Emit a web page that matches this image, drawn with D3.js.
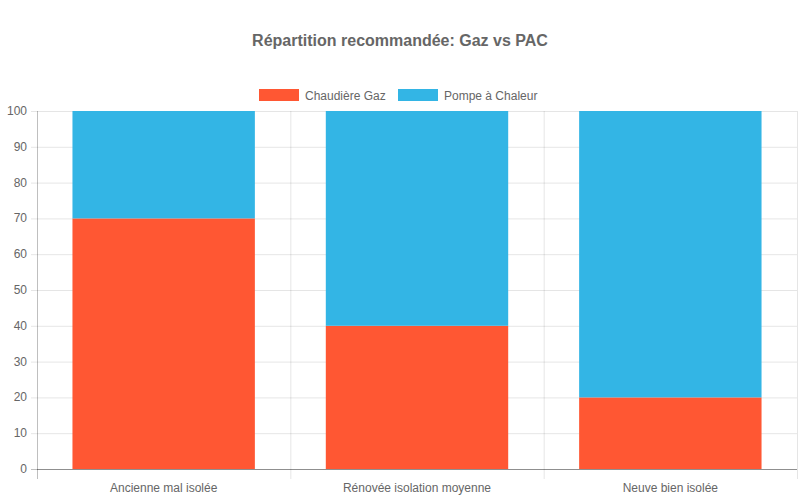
<!DOCTYPE html>
<html>
<head>
<meta charset="utf-8">
<script src="https://cdn.jsdelivr.net/npm/d3@7"></script>
<style>
  body { margin: 0; background: #fff; }
  svg { display: block; font-family: "Liberation Sans", Arial, Helvetica, sans-serif; }
</style>
</head>
<body>
<svg id="chart" width="800" height="500"></svg>
<script>
// donnees
const categories = ["Ancienne mal isolée", "Rénovée isolation moyenne", "Neuve bien isolée"];
const seriesNames = ["Chaudière Gaz", "Pompe à Chaleur"];
const gaz = [70, 40, 20];
const pac = [30, 60, 80];
const yTicks = [0, 10, 20, 30, 40, 50, 60, 70, 80, 90, 100];
const seriesColors = ["#FF5733", "#33B5E5"];

const svg = d3.select("#chart");
const margin = {top: 111, right: 3, bottom: 31, left: 37};
const width = 800 - margin.left - margin.right;
const height = 500 - margin.top - margin.bottom;

const x = d3.scaleBand().domain(categories).range([0, width]).paddingInner(0).paddingOuter(0);
const y = d3.scaleLinear().domain([0, 100]).range([height, 0]);

const rows = categories.map((c, i) => ({cat: c, gaz: gaz[i], pac: pac[i]}));
const stack = d3.stack().keys(["gaz", "pac"])(rows);

// titre
svg.append("text")
    .attr("x", 400).attr("y", 46)
    .attr("text-anchor", "middle")
    .attr("font-size", 16).attr("font-weight", "bold")
    .attr("fill", "#666")
    .text("Répartition recommandée: Gaz vs PAC");

// legende
const legendX = [259, 398];
const legend = svg.append("g");
seriesNames.forEach((name, i) => {
    legend.append("rect")
        .attr("x", legendX[i]).attr("y", 89)
        .attr("width", 40).attr("height", 12)
        .attr("fill", seriesColors[i]);
    legend.append("text")
        .attr("x", legendX[i] + 46).attr("y", 99.5)
        .attr("font-size", 12).attr("fill", "#666")
        .text(name);
});

const g = svg.append("g").attr("transform", `translate(${margin.left},${margin.top})`);

// grille horizontale
g.append("g").selectAll("line")
    .data(yTicks)
    .join("line")
    .attr("x1", -6).attr("x2", width)
    .attr("y1", d => y(d) + 0.5).attr("y2", d => y(d) + 0.5)
    .attr("stroke", d => d === 0 ? "rgba(0,0,0,0.25)" : "rgba(0,0,0,0.1)");

// grille verticale (bords des categories)
const vlines = categories.map(c => x(c)).concat([width]);
g.append("g").selectAll("line")
    .data(vlines)
    .join("line")
    .attr("x1", d => d + 0.5).attr("x2", d => d + 0.5)
    .attr("y1", 0).attr("y2", height + 10)
    .attr("stroke", (d, i) => i === 0 ? "rgba(0,0,0,0.25)" : "rgba(0,0,0,0.1)");

// barres
const barW = x.bandwidth() * 0.72;
g.append("g").selectAll("g")
    .data(stack)
    .join("g")
    .attr("fill", (d, i) => seriesColors[i])
    .selectAll("rect")
    .data(d => d)
    .join("rect")
    .attr("x", d => x(d.data.cat) + (x.bandwidth() - barW) / 2)
    .attr("width", barW)
    .attr("y", d => y(d[1]))
    .attr("height", d => y(d[0]) - y(d[1]));

// redessiner l'axe du bas par-dessus
g.append("line")
    .attr("x1", 0).attr("x2", width)
    .attr("y1", height + 0.5).attr("y2", height + 0.5)
    .attr("stroke", "rgba(0,0,0,0.25)");

// etiquettes Y
g.append("g").selectAll("text")
    .data(yTicks)
    .join("text")
    .attr("x", -10).attr("y", d => y(d) + 4)
    .attr("text-anchor", "end")
    .attr("font-size", 12).attr("fill", "#666")
    .text(d => d);

// etiquettes X
g.append("g").selectAll("text")
    .data(categories)
    .join("text")
    .attr("x", d => x(d) + x.bandwidth() / 2)
    .attr("y", height + 23)
    .attr("text-anchor", "middle")
    .attr("font-size", 12).attr("fill", "#666")
    .text(d => d);
</script>
</body>
</html>
